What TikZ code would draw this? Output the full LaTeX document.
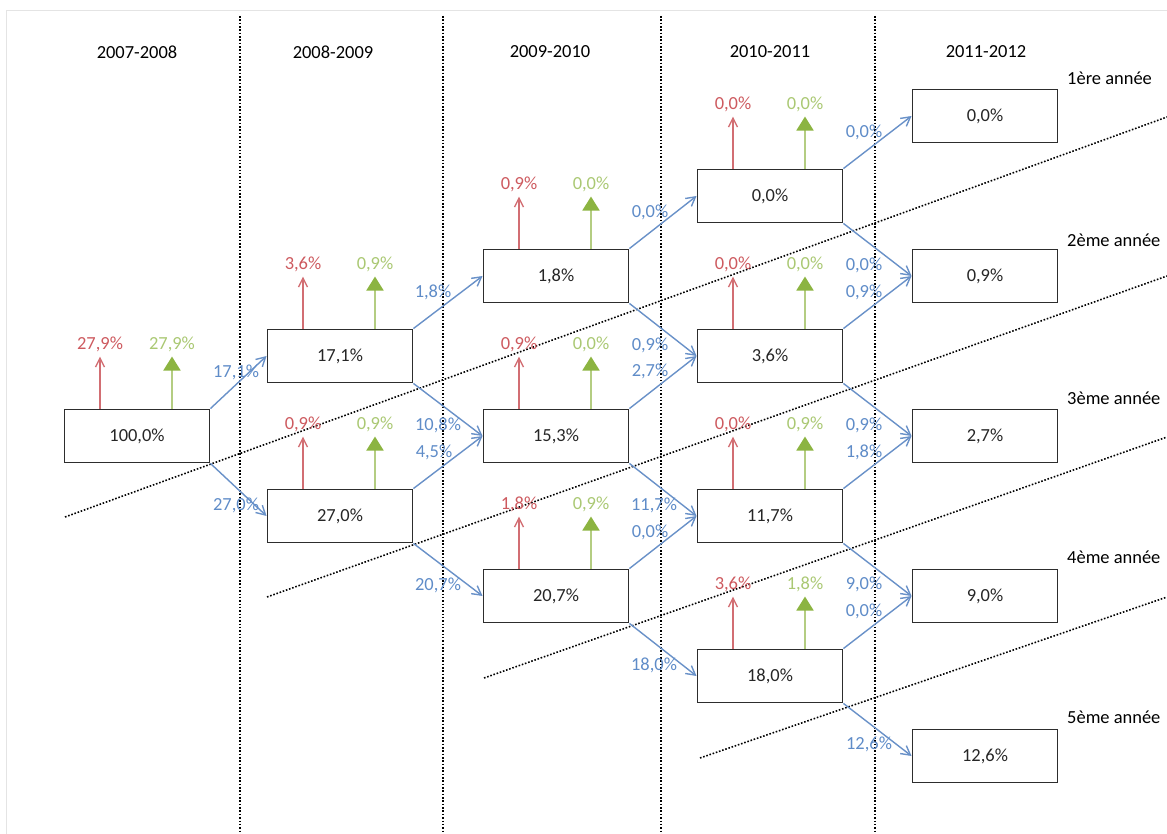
\documentclass[tikz,border=0pt]{standalone}
\usepackage{fontspec}
\setmainfont{Carlito}
\usetikzlibrary{arrows.meta}

\definecolor{boxline}{RGB}{45,45,45}
\definecolor{redtext}{RGB}{205,90,95}
\definecolor{redarrow}{RGB}{210,110,115}
\definecolor{greentext}{RGB}{170,200,115}
\definecolor{greenarrow}{RGB}{180,205,130}
\definecolor{greenhead}{RGB}{140,180,65}
\definecolor{bluetext}{RGB}{95,140,200}
\definecolor{bluearrow}{RGB}{105,145,200}
\definecolor{framegray}{RGB}{228,228,228}

\tikzset{
  every node/.style={font=\fontsize{10.5}{12}\selectfont},
  box/.style={draw=boxline, line width=1.1pt, minimum width=2.9cm, minimum height=1.06cm, inner sep=0pt, text=black!85},
  flow/.style={draw=bluearrow, line width=0.8pt, -{Straight Barb[length=0.18cm,width=0.2cm]}},
  flowlab/.style={text=bluetext, inner sep=0pt},
  outred/.style={draw=redarrow, line width=0.8pt, -{Straight Barb[length=0.18cm,width=0.18cm]}},
  outgreen/.style={draw=greenarrow, line width=1.1pt, -{Triangle[length=0.28cm,width=0.34cm,color=greenhead]}},
  redlab/.style={above, text=redtext, inner sep=2pt},
  greenlab/.style={above, text=greentext, inner sep=2pt},
  divider/.style={densely dotted, line width=0.9pt},
}

\begin{document}
\begin{tikzpicture}[x=0.02cm, y=-0.02cm]
        \useasboundingbox (0,0) rectangle (1167,834);
        \draw[framegray] (6,834) -- (6,10) -- (1167,10);

        % columns
        \draw[divider] (240,16) -- (240,834);
        \draw[divider] (443,16) -- (443,834);
        \draw[divider] (661,16) -- (661,834);
        \draw[divider] (875,16) -- (875,834);

        \node (y1) at (137,52) {2007-2008};
        \node (y2) at (333,52) {2008-2009};
        \node (y3) at (550,52) {2009-2010};
        \node (y4) at (770,52) {2010-2011};
        \node (y5) at (986,52) {2011-2012};

        % level separators
        \draw[divider] (65,517) -- (1167,117);
        \draw[divider] (267,597) -- (1167,276);
        \draw[divider] (484,678) -- (1167,437);
        \draw[divider] (700,758) -- (1167,597);

        \node[anchor=west] (n1) at (1061,78) {1ère année};
        \node[anchor=west] (n2) at (1061,240) {2ème année};
        \node[anchor=west] (n3) at (1061,398) {3ème année};
        \node[anchor=west] (n4) at (1061,557) {4ème année};
        \node[anchor=west] (n5) at (1061,717) {5ème année};

        % boxes
        \node[box] (A) at (137,436) {100,0\%};
        \node[box] (B1) at (340,356) {17,1\%};
        \node[box] (B2) at (340,516) {27,0\%};
        \node[box] (C1) at (556,276) {1,8\%};
        \node[box] (C2) at (556,436) {15,3\%};
        \node[box] (C3) at (556,596) {20,7\%};
        \node[box] (D1) at (770,196) {0,0\%};
        \node[box] (D2) at (770,356) {3,6\%};
        \node[box] (D3) at (770,516) {11,7\%};
        \node[box] (D4) at (770,676) {18,0\%};
        \node[box] (E1) at (985,116) {0,0\%};
        \node[box] (E2) at (985,276) {0,9\%};
        \node[box] (E3) at (985,436) {2,7\%};
        \node[box] (E4) at (985,596) {9,0\%};
        \node[box] (E5) at (985,756) {12,6\%};

        % leaving
        \draw[outred] ([xshift=-0.74cm]A.north) -- ++(0,-52) node[redlab] (rA) {27,9\%};
        \draw[outgreen] ([xshift=0.70cm]A.north) -- ++(0,-52) node[greenlab] (gA) {27,9\%};
        \draw[outred] ([xshift=-0.74cm]B1.north) -- ++(0,-52) node[redlab] (rB1) {3,6\%};
        \draw[outgreen] ([xshift=0.70cm]B1.north) -- ++(0,-52) node[greenlab] (gB1) {0,9\%};
        \draw[outred] ([xshift=-0.74cm]B2.north) -- ++(0,-52) node[redlab] (rB2) {0,9\%};
        \draw[outgreen] ([xshift=0.70cm]B2.north) -- ++(0,-52) node[greenlab] (gB2) {0,9\%};
        \draw[outred] ([xshift=-0.74cm]C1.north) -- ++(0,-52) node[redlab] (rC1) {0,9\%};
        \draw[outgreen] ([xshift=0.70cm]C1.north) -- ++(0,-52) node[greenlab] (gC1) {0,0\%};
        \draw[outred] ([xshift=-0.74cm]C2.north) -- ++(0,-52) node[redlab] (rC2) {0,9\%};
        \draw[outgreen] ([xshift=0.70cm]C2.north) -- ++(0,-52) node[greenlab] (gC2) {0,0\%};
        \draw[outred] ([xshift=-0.74cm]C3.north) -- ++(0,-52) node[redlab] (rC3) {1,8\%};
        \draw[outgreen] ([xshift=0.70cm]C3.north) -- ++(0,-52) node[greenlab] (gC3) {0,9\%};
        \draw[outred] ([xshift=-0.74cm]D1.north) -- ++(0,-52) node[redlab] (rD1) {0,0\%};
        \draw[outgreen] ([xshift=0.70cm]D1.north) -- ++(0,-52) node[greenlab] (gD1) {0,0\%};
        \draw[outred] ([xshift=-0.74cm]D2.north) -- ++(0,-52) node[redlab] (rD2) {0,0\%};
        \draw[outgreen] ([xshift=0.70cm]D2.north) -- ++(0,-52) node[greenlab] (gD2) {0,0\%};
        \draw[outred] ([xshift=-0.74cm]D3.north) -- ++(0,-52) node[redlab] (rD3) {0,0\%};
        \draw[outgreen] ([xshift=0.70cm]D3.north) -- ++(0,-52) node[greenlab] (gD3) {0,9\%};
        \draw[outred] ([xshift=-0.74cm]D4.north) -- ++(0,-52) node[redlab] (rD4) {3,6\%};
        \draw[outgreen] ([xshift=0.70cm]D4.north) -- ++(0,-52) node[greenlab] (gD4) {1,8\%};

        % moving on
        \draw[flow] (A.north east) -- (B1.west);
        \draw[flow] (A.south east) -- (B2.west);
        \draw[flow] (B1.north east) -- (C1.west);
        \draw[flow] (B1.south east) -- (C2.west);
        \draw[flow] (B2.north east) -- (C2.west);
        \draw[flow] (B2.south east) -- (C3.west);
        \draw[flow] (C1.north east) -- (D1.west);
        \draw[flow] (C1.south east) -- (D2.west);
        \draw[flow] (C2.north east) -- (D2.west);
        \draw[flow] (C2.south east) -- (D3.west);
        \draw[flow] (C3.north east) -- (D3.west);
        \draw[flow] (C3.south east) -- (D4.west);
        \draw[flow] (D1.north east) -- (E1.west);
        \draw[flow] (D1.south east) -- (E2.west);
        \draw[flow] (D2.north east) -- (E2.west);
        \draw[flow] (D2.south east) -- (E3.west);
        \draw[flow] (D3.north east) -- (E3.west);
        \draw[flow] (D3.south east) -- (E4.west);
        \draw[flow] (D4.north east) -- (E4.west);
        \draw[flow] (D4.south east) -- (E5.west);

        \node[flowlab] (fAB1) at (236,372) {17,1\%};
        \node[flowlab] (fAB2) at (236,505) {27,0\%};
        \node[flowlab] (fB1C1) at (433,292) {1,8\%};
        \node[flowlab] (fB1C2) at (438,425) {10,8\%};
        \node[flowlab] (fB2C2) at (434,452) {4,5\%};
        \node[flowlab] (fB2C3) at (438,585) {20,7\%};
        \node[flowlab] (fC1D1) at (650,212) {0,0\%};
        \node[flowlab] (fC1D2) at (650,345) {0,9\%};
        \node[flowlab] (fC2D2) at (650,371) {2,7\%};
        \node[flowlab] (fC2D3) at (654,505) {11,7\%};
        \node[flowlab] (fC3D3) at (650,532) {0,0\%};
        \node[flowlab] (fC3D4) at (654,665) {18,0\%};
        \node[flowlab] (fD1E1) at (864,132) {0,0\%};
        \node[flowlab] (fD1E2) at (864,265) {0,0\%};
        \node[flowlab] (fD2E2) at (864,292) {0,9\%};
        \node[flowlab] (fD2E3) at (864,425) {0,9\%};
        \node[flowlab] (fD3E3) at (864,452) {1,8\%};
        \node[flowlab] (fD3E4) at (864,584) {9,0\%};
        \node[flowlab] (fD4E4) at (864,611) {0,0\%};
        \node[flowlab] (fD4E5) at (869,744) {12,6\%};
    \end{tikzpicture}
\end{document}
